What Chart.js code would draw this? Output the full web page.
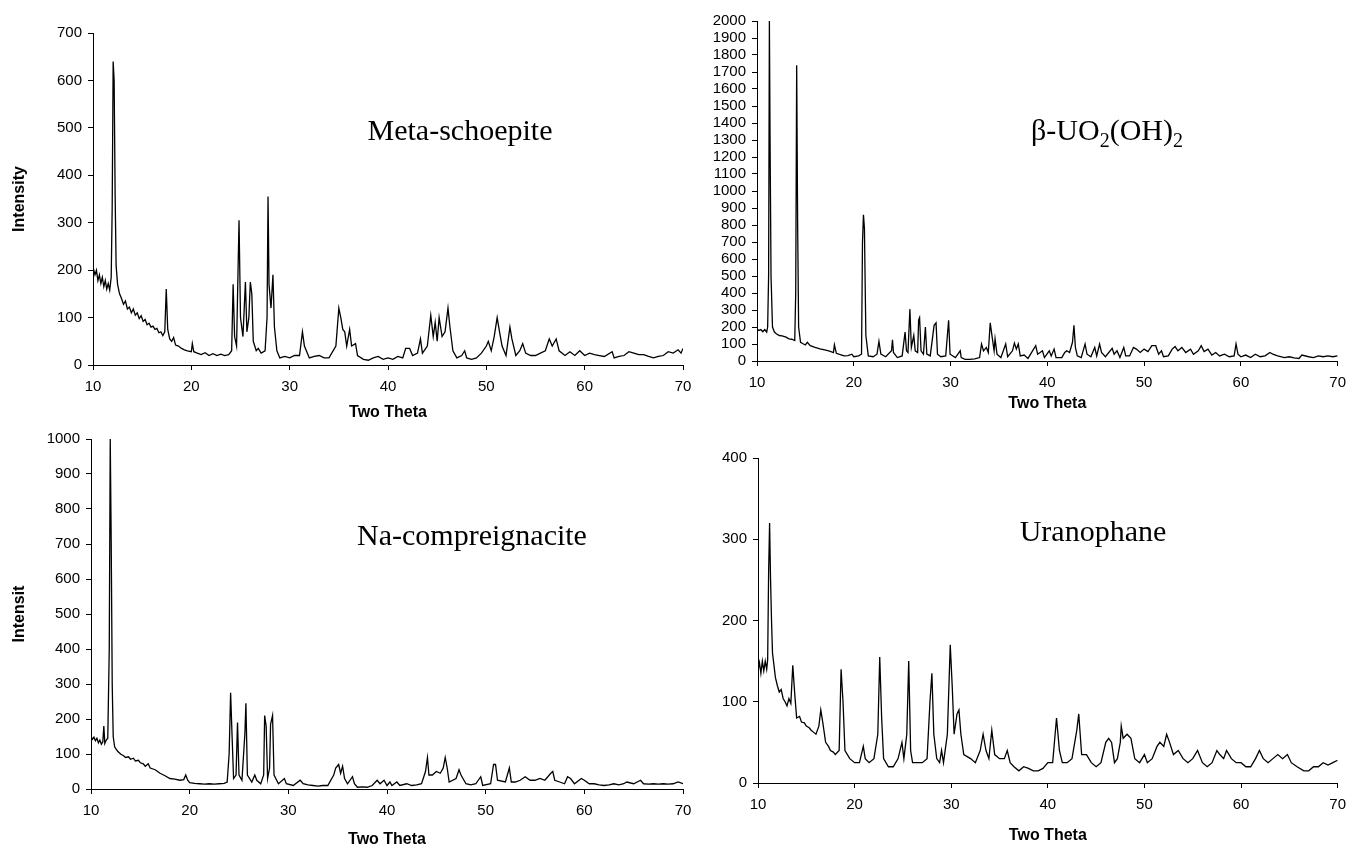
<!DOCTYPE html>
<html>
<head>
<meta charset="utf-8">
<script src="https://cdn.jsdelivr.net/npm/chart.js@4.4.1/dist/chart.umd.min.js"></script>
<style>
  body { margin: 0; background: #fff; width: 1354px; height: 848px; position: relative; overflow: hidden; }
  .box { position: absolute; }
  .label {
    position: absolute;
    font-family: "Liberation Serif", "Times New Roman", serif;
    font-size: 30px;
    color: #000;
    white-space: nowrap;
    transform: translate(-50%, -50%);
  }
  .label sub { font-size: 20px; }
</style>
</head>
<body>
<div class="box" id="b1"><canvas id="c1"></canvas></div>
<div class="box" id="b2"><canvas id="c2"></canvas></div>
<div class="box" id="b3"><canvas id="c3"></canvas></div>
<div class="box" id="b4"><canvas id="c4"></canvas></div>

<div class="label" style="left:460px; top:130px;">Meta-schoepite</div>
<div class="label" style="left:1107px; top:132px;">&beta;-UO<sub>2</sub>(OH)<sub>2</sub></div>
<div class="label" style="left:472px; top:535px;">Na-compreignacite</div>
<div class="label" style="left:1093px; top:531px;">Uranophane</div>

<script>
// x tick labels (two theta) shared by all panels
const twoThetaTicks = [10, 20, 30, 40, 50, 60, 70];

// [two theta, intensity]
const metaSchoepite = [
  [10, 690], [10.02, 205], [10.2, 190], [10.35, 200], [10.5, 178], [10.65, 190], [10.8, 172], [10.95, 185],
  [11.1, 165], [11.25, 178], [11.4, 160], [11.55, 172], [11.7, 158], [11.85, 185], [11.95, 330], [12.05, 640],
  [12.15, 600], [12.25, 360], [12.35, 210], [12.5, 170], [12.7, 150], [12.9, 140], [13.1, 128], [13.3, 135],
  [13.5, 118], [13.7, 122], [13.9, 110], [14.1, 118], [14.3, 105], [14.5, 110], [14.7, 98], [14.9, 104],
  [15.1, 92], [15.3, 96], [15.5, 85], [15.7, 88], [15.9, 80], [16.1, 82], [16.3, 75], [16.5, 77],
  [16.7, 68], [16.9, 70], [17.1, 62], [17.3, 70], [17.45, 160], [17.6, 75], [17.8, 55], [18.0, 50],
  [18.2, 58], [18.4, 42], [18.7, 40], [19, 35], [19.3, 32], [19.6, 30], [20.0, 28], [20.1, 45],
  [20.25, 28], [20.6, 25], [21, 22], [21.4, 26], [21.8, 20], [22.2, 24], [22.6, 20], [23, 23],
  [23.4, 20], [23.8, 22], [24.1, 30], [24.25, 170], [24.4, 60], [24.6, 40], [24.85, 305], [25.0, 100],
  [25.25, 60], [25.5, 175], [25.65, 70], [25.85, 100], [26.0, 175], [26.15, 150], [26.3, 50], [26.6, 30],
  [26.8, 35], [27.1, 25], [27.5, 30], [27.7, 100], [27.8, 355], [27.9, 170], [28.1, 120], [28.3, 190],
  [28.45, 80], [28.7, 30], [29, 15], [29.5, 18], [30, 15], [30.5, 20], [31, 20], [31.3, 70],
  [31.5, 40], [32, 15], [32.5, 18], [33, 20], [33.5, 15], [34, 15], [34.7, 40], [35.0, 120],
  [35.2, 100], [35.4, 75], [35.6, 70], [35.8, 40], [36.1, 75], [36.3, 40], [36.7, 45], [36.9, 20],
  [37.5, 12], [38, 10], [38.5, 15], [39, 18], [39.5, 12], [40, 15], [40.5, 12], [41, 18],
  [41.5, 15], [41.8, 35], [42.2, 35], [42.5, 20], [43, 25], [43.3, 55], [43.5, 25], [44, 40],
  [44.35, 105], [44.6, 60], [44.8, 90], [45.0, 50], [45.2, 100], [45.5, 60], [45.8, 70], [46.1, 120],
  [46.3, 80], [46.6, 30], [47, 15], [47.5, 20], [47.8, 30], [48, 15], [48.5, 12], [49, 15],
  [49.5, 25], [50, 40], [50.2, 50], [50.5, 30], [50.8, 60], [51.1, 100], [51.3, 75], [51.6, 40],
  [52, 20], [52.4, 80], [52.6, 55], [53, 20], [53.4, 30], [53.7, 45], [54, 25], [54.5, 20],
  [55, 20], [55.5, 25], [56, 30], [56.4, 55], [56.7, 40], [57.1, 55], [57.4, 30], [58, 20],
  [58.5, 28], [59, 20], [59.5, 30], [60, 20], [60.5, 25], [61, 22], [61.5, 20], [62, 18],
  [62.8, 28], [63, 15], [63.5, 18], [64, 20], [64.5, 28], [65, 25], [65.5, 22], [66, 22],
  [66.5, 18], [67, 15], [67.5, 18], [68, 20], [68.5, 28], [69, 25], [69.5, 32], [69.8, 25], [70, 35]
];

const betaUO2OH2 = [
  [10, 190], [10.2, 180], [10.4, 185], [10.6, 172], [10.8, 185], [11.0, 170], [11.1, 200], [11.2, 500],
  [11.28, 2000], [11.35, 1300], [11.45, 500], [11.6, 200], [11.8, 170], [12, 160], [12.3, 150], [12.6, 148],
  [13, 140], [13.3, 130], [13.6, 128], [13.9, 120], [14.0, 400], [14.1, 1740], [14.2, 800], [14.3, 200],
  [14.5, 110], [14.8, 100], [15, 95], [15.2, 110], [15.5, 90], [16, 80], [16.5, 72], [17, 65],
  [17.5, 58], [17.9, 50], [18.0, 95], [18.2, 45], [18.6, 38], [19, 30], [19.4, 32], [19.8, 40],
  [20, 25], [20.5, 30], [20.8, 40], [20.9, 700], [21.0, 860], [21.1, 780], [21.25, 150], [21.5, 30],
  [22, 25], [22.4, 40], [22.6, 115], [22.8, 40], [23.3, 25], [23.9, 60], [24.0, 125], [24.1, 50],
  [24.5, 20], [25, 30], [25.3, 170], [25.45, 60], [25.6, 50], [25.8, 305], [25.95, 80], [26.2, 150],
  [26.35, 60], [26.6, 50], [26.7, 240], [26.8, 255], [26.95, 60], [27.2, 40], [27.4, 200], [27.55, 40],
  [27.9, 30], [28.3, 210], [28.5, 225], [28.65, 40], [29, 25], [29.5, 30], [29.8, 240], [29.95, 40],
  [30.5, 20], [31, 60], [31.1, 20], [31.5, 10], [32, 10], [32.5, 12], [33, 20], [33.2, 100],
  [33.4, 60], [33.7, 80], [33.9, 50], [34.1, 225], [34.3, 140], [34.5, 60], [34.6, 130], [34.8, 40],
  [35.2, 20], [35.7, 100], [35.9, 25], [36.4, 60], [36.6, 105], [36.8, 70], [37.0, 100], [37.2, 30],
  [37.6, 35], [38, 15], [38.8, 90], [39, 40], [39.5, 60], [39.7, 20], [40.2, 60], [40.4, 30],
  [40.7, 70], [40.9, 20], [41.5, 20], [41.8, 50], [42, 60], [42.3, 50], [42.6, 110], [42.75, 210],
  [42.9, 80], [43.1, 30], [43.5, 20], [43.9, 100], [44.1, 40], [44.5, 25], [44.9, 80], [45.1, 30],
  [45.4, 100], [45.6, 50], [46, 25], [46.7, 75], [46.9, 40], [47.2, 60], [47.5, 20], [47.9, 80],
  [48.1, 30], [48.5, 30], [48.9, 80], [49.2, 70], [49.6, 50], [50, 70], [50.4, 55], [50.8, 90],
  [51.2, 90], [51.5, 40], [51.8, 60], [52, 25], [52.5, 30], [52.9, 70], [53.2, 85], [53.5, 60],
  [53.9, 80], [54.3, 50], [54.8, 70], [55.1, 40], [55.6, 60], [55.9, 90], [56.2, 55], [56.6, 70],
  [57, 35], [57.4, 50], [57.8, 30], [58.3, 40], [58.8, 25], [59.3, 30], [59.5, 100], [59.7, 40],
  [60, 25], [60.5, 35], [61, 20], [61.5, 40], [62, 25], [62.5, 30], [63, 50], [63.3, 40],
  [63.8, 30], [64.5, 20], [65, 25], [65.5, 18], [66, 15], [66.3, 35], [67, 25], [67.5, 20],
  [68, 30], [68.5, 25], [69, 30], [69.5, 25], [70, 30]
];

const naCompreignacite = [
  [10, 150], [10.15, 142], [10.3, 148], [10.45, 138], [10.6, 145], [10.75, 132], [10.9, 140], [11.05, 128],
  [11.2, 135], [11.3, 180], [11.4, 130], [11.55, 140], [11.7, 145], [11.85, 400], [11.95, 1000], [12.05, 700],
  [12.15, 300], [12.25, 150], [12.4, 120], [12.7, 108], [13, 100], [13.3, 95], [13.5, 90], [13.8, 92],
  [14, 85], [14.3, 88], [14.5, 80], [14.8, 82], [15, 75], [15.3, 72], [15.5, 65], [15.8, 72],
  [16, 60], [16.5, 55], [17, 45], [17.5, 38], [18, 30], [18.5, 28], [19, 25], [19.4, 27],
  [19.6, 40], [19.8, 25], [20, 18], [20.5, 16], [21, 15], [21.5, 14], [22, 15], [22.5, 14],
  [23, 15], [23.5, 16], [23.8, 20], [24.0, 100], [24.15, 275], [24.3, 150], [24.45, 30], [24.7, 40],
  [24.85, 190], [25.0, 40], [25.3, 25], [25.6, 160], [25.7, 245], [25.85, 40], [26.3, 20], [26.6, 40],
  [26.8, 25], [27.2, 15], [27.5, 40], [27.6, 210], [27.75, 180], [27.9, 30], [28.1, 60], [28.2, 185],
  [28.4, 210], [28.55, 40], [29, 15], [29.6, 30], [29.8, 15], [30.5, 10], [31.2, 25], [31.5, 15],
  [32, 12], [32.5, 10], [33, 8], [33.5, 10], [34, 10], [34.6, 40], [34.8, 60], [35.1, 70],
  [35.3, 45], [35.5, 65], [35.7, 30], [36, 15], [36.5, 35], [36.7, 15], [37, 5], [37.5, 6],
  [38, 5], [38.5, 10], [39, 25], [39.3, 15], [39.7, 25], [40, 10], [40.3, 20], [40.5, 10],
  [41, 20], [41.3, 10], [42, 15], [42.5, 10], [43, 12], [43.5, 15], [43.9, 50], [44.1, 90],
  [44.25, 40], [44.6, 40], [45, 50], [45.4, 45], [45.7, 60], [45.9, 90], [46.1, 60], [46.3, 20],
  [47, 30], [47.3, 55], [47.5, 40], [48, 15], [48.5, 12], [49, 15], [49.5, 35], [49.7, 10],
  [50.5, 15], [50.8, 70], [51.0, 70], [51.2, 25], [52, 20], [52.4, 60], [52.6, 20], [53, 20],
  [53.5, 25], [54, 35], [54.5, 25], [55, 25], [55.5, 30], [56, 25], [56.6, 45], [56.8, 50],
  [57, 25], [57.5, 20], [58, 15], [58.3, 35], [58.6, 30], [59, 15], [59.7, 30], [60, 25],
  [60.5, 15], [61, 15], [61.5, 12], [62, 10], [62.5, 12], [63, 15], [63.5, 12], [64, 15],
  [64.3, 20], [65, 15], [65.7, 25], [66, 15], [66.5, 14], [67, 15], [67.5, 14], [68, 15],
  [68.5, 14], [69, 15], [69.5, 20], [70, 15]
];

const uranophane = [
  [10, 330], [10.03, 140], [10.15, 148], [10.3, 135], [10.45, 150], [10.6, 138], [10.75, 150], [10.9, 140],
  [11.0, 152], [11.1, 260], [11.2, 320], [11.3, 250], [11.4, 200], [11.5, 160], [11.65, 145], [11.8, 130],
  [12, 120], [12.2, 112], [12.4, 115], [12.6, 104], [12.8, 100], [13, 95], [13.2, 104], [13.4, 98],
  [13.6, 145], [13.8, 110], [14, 80], [14.3, 82], [14.5, 75], [14.8, 74], [15, 70], [15.3, 68],
  [15.5, 65], [15.8, 62], [16, 60], [16.3, 70], [16.5, 90], [16.7, 75], [17, 50], [17.3, 45],
  [17.5, 40], [17.8, 38], [18, 35], [18.4, 40], [18.6, 140], [18.8, 100], [19, 40], [19.5, 30],
  [20, 25], [20.5, 25], [20.9, 45], [21.1, 30], [21.5, 25], [22, 30], [22.4, 60], [22.6, 155],
  [22.8, 80], [23, 30], [23.5, 20], [24, 20], [24.5, 30], [24.9, 50], [25.1, 30], [25.4, 60],
  [25.6, 150], [25.8, 40], [26, 25], [26.5, 25], [27, 25], [27.5, 30], [27.8, 100], [28.0, 135],
  [28.2, 60], [28.5, 30], [28.8, 25], [29.0, 40], [29.2, 25], [29.6, 60], [29.9, 170], [30.1, 120],
  [30.3, 60], [30.6, 85], [30.8, 90], [31.0, 60], [31.3, 35], [32, 30], [32.5, 25], [33, 40],
  [33.3, 60], [33.6, 40], [33.9, 30], [34.2, 65], [34.5, 35], [35, 30], [35.5, 30], [35.8, 40],
  [36.1, 25], [36.5, 20], [37, 15], [37.5, 20], [38, 18], [38.5, 15], [39, 15], [39.5, 18],
  [40, 25], [40.5, 25], [40.9, 80], [41.2, 40], [41.5, 25], [42, 25], [42.5, 30], [43, 65],
  [43.2, 85], [43.5, 35], [44, 35], [44.5, 25], [45, 20], [45.5, 25], [46, 50], [46.3, 55],
  [46.6, 50], [46.9, 25], [47.2, 30], [47.5, 50], [47.6, 70], [47.8, 55], [48.2, 60], [48.6, 55],
  [49, 30], [49.5, 25], [50, 35], [50.3, 25], [50.8, 30], [51.3, 45], [51.6, 50], [52, 45],
  [52.3, 60], [52.6, 50], [53, 35], [53.5, 40], [54, 30], [54.5, 25], [55, 30], [55.5, 40],
  [56, 25], [56.5, 20], [57, 25], [57.5, 40], [57.8, 35], [58.2, 30], [58.5, 40], [59, 30],
  [59.5, 25], [60, 25], [60.5, 20], [61, 20], [61.5, 30], [61.9, 40], [62.3, 30], [62.8, 25],
  [63.3, 30], [63.8, 35], [64.3, 30], [64.8, 35], [65.2, 25], [65.8, 20], [66.5, 15], [67, 15],
  [67.5, 20], [68, 20], [68.5, 25], [69, 22], [69.5, 25], [70, 28]
];

// y-axis ranges for the four panels
const yMaxValues = [700, 2000, 1000, 400];

const TICK_FONT = { family: '"Liberation Sans", Arial, sans-serif', size: 15 };
const TITLE_FONT = { family: '"Liberation Sans", Arial, sans-serif', size: 16, weight: 'bold' };
const TITLE_LH = 16 * 1.2;

const panels = [
  { id: 'c1', box: 'b1', data: metaSchoepite, yMax: yMaxValues[0], yTitle: 'Intensity',
    frame: { left: 0, top: 0, width: 700, height: 424 }, area: { l: 93, t: 33, r: 683, b: 365 }, xTitleY: 413 },
  { id: 'c2', box: 'b2', data: betaUO2OH2, yMax: yMaxValues[1], yTitle: '',
    frame: { left: 690, top: 0, width: 664, height: 424 }, area: { l: 757, t: 21, r: 1344, b: 361 }, xTitleY: 404 },
  { id: 'c3', box: 'b3', data: naCompreignacite, yMax: yMaxValues[2], yTitle: 'Intensit',
    frame: { left: 0, top: 424, width: 700, height: 424 }, area: { l: 91, t: 439, r: 683, b: 789 }, xTitleY: 840 },
  { id: 'c4', box: 'b4', data: uranophane, yMax: yMaxValues[3], yTitle: '',
    frame: { left: 690, top: 424, width: 664, height: 424 }, area: { l: 758, t: 458, r: 1343, b: 783 }, xTitleY: 836 }
];

panels.forEach(p => {
  const f = p.frame, a = p.area;
  const boxEl = document.getElementById(p.box);
  boxEl.style.left = f.left + 'px';
  boxEl.style.top = f.top + 'px';
  boxEl.style.width = f.width + 'px';
  boxEl.style.height = f.height + 'px';

  const yWidth = a.l - f.left;
  const xHeight = f.top + f.height - a.b;
  const xTitlePad = (f.top + f.height) - p.xTitleY - TITLE_LH / 2;
  const yTitlePad = 19.5 - f.left - TITLE_LH / 2;

  new Chart(document.getElementById(p.id), {
    type: 'scatter',
    data: {
      datasets: [{
        data: p.data.map(([x, y]) => ({ x, y })),
        showLine: true,
        borderColor: '#000',
        borderWidth: 1.3,
        pointRadius: 0,
        tension: 0
      }]
    },
    options: {
      responsive: true,
      maintainAspectRatio: false,
      devicePixelRatio: 1,
      animation: false,
      layout: { padding: { left: 0, top: a.t - f.top, right: f.left + f.width - a.r, bottom: 0 } },
      plugins: { legend: { display: false }, tooltip: { enabled: false } },
      scales: {
        x: {
          type: 'linear',
          min: 10, max: 70,
          afterFit: s => { s.height = xHeight; },
          afterBuildTicks: s => { s.ticks = twoThetaTicks.map(v => ({ value: v })); },
          border: { display: true, color: '#000', width: 1 },
          grid: { drawOnChartArea: false, drawTicks: true, tickLength: 5, color: '#000' },
          ticks: { color: '#000', font: TICK_FONT, padding: 8, maxRotation: 0, autoSkip: false, callback: v => String(v) },
          title: { display: true, text: 'Two Theta', color: '#000', font: TITLE_FONT, padding: { top: 0, bottom: xTitlePad } }
        },
        y: {
          min: 0, max: p.yMax,
          afterFit: s => { s.width = yWidth; },
          border: { display: true, color: '#000', width: 1 },
          grid: { drawOnChartArea: false, drawTicks: true, tickLength: 5, color: '#000' },
          ticks: { color: '#000', font: TICK_FONT, padding: 6, stepSize: 100, autoSkip: false, callback: v => String(v) },
          title: { display: !!p.yTitle, text: p.yTitle, color: '#000', font: TITLE_FONT, padding: { top: yTitlePad, bottom: 0 } }
        }
      }
    }
  });
});
</script>
</body>
</html>
